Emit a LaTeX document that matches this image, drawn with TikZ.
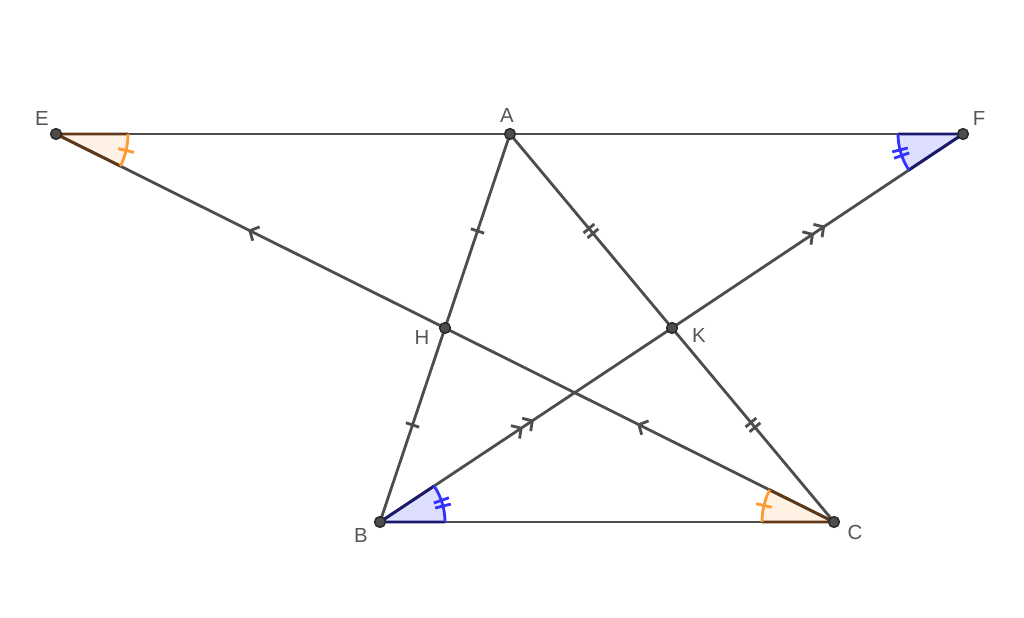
\documentclass[tikz,border=0pt]{standalone}
\usepackage{fontspec}
\setmainfont{Liberation Sans}
\usetikzlibrary{decorations.markings}

\definecolor{segcol}{RGB}{77,77,77}
\definecolor{lblcol}{RGB}{85,85,85}
\definecolor{orarccol}{RGB}{255,153,51}
\definecolor{orfillcol}{RGB}{255,242,228}
\definecolor{orsidecol}{RGB}{95,55,25}
\definecolor{blarccol}{RGB}{51,51,255}
\definecolor{blfillcol}{RGB}{222,222,255}
\definecolor{blsidecol}{RGB}{25,25,110}

\tikzset{
	seg/.style = {draw = segcol, line width = 0.8pt},
	lbl/.style = {text = lblcol, font = \fontsize{5.8}{6}\selectfont, inner sep = 0pt},
	orarc/.style = {draw = orarccol, line width = 0.8pt},
	orside/.style = {draw = orsidecol, line width = 0.8pt},
	blarc/.style = {draw = blarccol, line width = 0.8pt},
	blside/.style = {draw = blsidecol, line width = 0.8pt},
	onetick/.style = {postaction = {decorate, decoration = {markings,
		mark = at position 0.5 with {\draw[seg] (0, -2pt) -- (0, 2pt);}}}},
	twotick/.style = {postaction = {decorate, decoration = {markings,
		mark = at position 0.5 with {\draw[seg] (-0.9pt, -2pt) -- (-0.9pt, 2pt); \draw[seg] (0.9pt, -2pt) -- (0.9pt, 2pt);}}}},
	onearrow/.style = {postaction = {decorate, decoration = {markings,
		mark = at position 0.5 with {\draw[seg] (-1.8pt, 2.2pt) -- (0.2pt, 0) -- (-1.8pt, -2.2pt);}}}},
	twoarrow/.style = {postaction = {decorate, decoration = {markings,
		mark = at position 0.5 with {\draw[seg] (-3.6pt, 2.2pt) -- (-1.6pt, 0) -- (-3.6pt, -2.2pt); \draw[seg] (0.2pt, 2.2pt) -- (2.2pt, 0) -- (0.2pt, -2.2pt);}}}}
}

\begin{document}
\begin{tikzpicture}[line join = round]
	\useasboundingbox (0, 0) rectangle (10.24, 6.18);
	
	\coordinate (E) at (0.56, 4.84);
	\coordinate (A) at (5.10, 4.84);
	\coordinate (F) at (9.63, 4.84);
	\coordinate (H) at (4.45, 2.90);
	\coordinate (K) at (6.72, 2.90);
	\coordinate (B) at (3.80, 0.96);
	\coordinate (C) at (8.34, 0.96);
	
	% angle fills
	\fill[orfillcol] (E) -- ++(0:0.72) arc (0:-26.5:0.72) -- cycle;
	\fill[orfillcol] (C) -- ++(180:0.72) arc (180:153.5:0.72) -- cycle;
	\fill[blfillcol] (B) -- ++(0:0.65) arc (0:33.6:0.65) -- cycle;
	\fill[blfillcol] (F) -- ++(180:0.65) arc (180:213.6:0.65) -- cycle;
	
	\draw[seg] (E) -- (A);
	\draw[seg] (A) -- (F);
	\draw[seg] (B) -- (C);
	\draw[seg, onetick] (A) -- (H);
	\draw[seg, onetick] (H) -- (B);
	\draw[seg, twotick] (A) -- (K);
	\draw[seg, twotick] (K) -- (C);
	\draw[seg, onearrow] (H) -- (E);
	\draw[seg, onearrow] (C) -- (H);
	\draw[seg, twoarrow] (B) -- (K);
	\draw[seg, twoarrow] (K) -- (F);
	
	% angle at E and C
	\draw[orside] ([shift = {(0:0.72)}] E) -- (E) -- ([shift = {(-26.5:0.72)}] E);
	\draw[orarc] ([shift = {(0:0.72)}] E) arc (0:-26.5:0.72);
	\draw[orarc] ([shift = {(-13.25:0.64)}] E) -- ([shift = {(-13.25:0.80)}] E);
	\draw[orside] ([shift = {(180:0.72)}] C) -- (C) -- ([shift = {(153.5:0.72)}] C);
	\draw[orarc] ([shift = {(180:0.72)}] C) arc (180:153.5:0.72);
	\draw[orarc] ([shift = {(166.75:0.64)}] C) -- ([shift = {(166.75:0.80)}] C);
	
	% angle at B and F
	\draw[blside] ([shift = {(0:0.65)}] B) -- (B) -- ([shift = {(33.6:0.65)}] B);
	\draw[blarc] ([shift = {(0:0.65)}] B) arc (0:33.6:0.65);
	\foreach \t in {14.2, 19.4}
	\draw[blarc] ([shift = {(\t:0.57)}] B) -- ([shift = {(\t:0.73)}] B);
	\draw[blside] ([shift = {(180:0.65)}] F) -- (F) -- ([shift = {(213.6:0.65)}] F);
	\draw[blarc] ([shift = {(180:0.65)}] F) arc (180:213.6:0.65);
	\foreach \t in {194.2, 199.4}
	\draw[blarc] ([shift = {(\t:0.57)}] F) -- ([shift = {(\t:0.73)}] F);
	
	\foreach \p in {E, A, F, H, K, B, C}
	\filldraw[fill = segcol, draw = black!85, line width = 0.4pt] (\p) circle (0.054);
	
	\node[lbl] (labE) at ([shift = {(-0.14, 0.16)}] E) {E};
	\node[lbl] (labA) at ([shift = {(-0.03, 0.19)}] A) {A};
	\node[lbl] (labF) at ([shift = {(0.16, 0.16)}] F) {F};
	\node[lbl] (labH) at ([shift = {(-0.23, -0.09)}] H) {H};
	\node[lbl] (labK) at ([shift = {(0.27, -0.07)}] K) {K};
	\node[lbl] (labB) at ([shift = {(-0.19, -0.13)}] B) {B};
	\node[lbl] (labC) at ([shift = {(0.21, -0.10)}] C) {C};
\end{tikzpicture}
\end{document}
